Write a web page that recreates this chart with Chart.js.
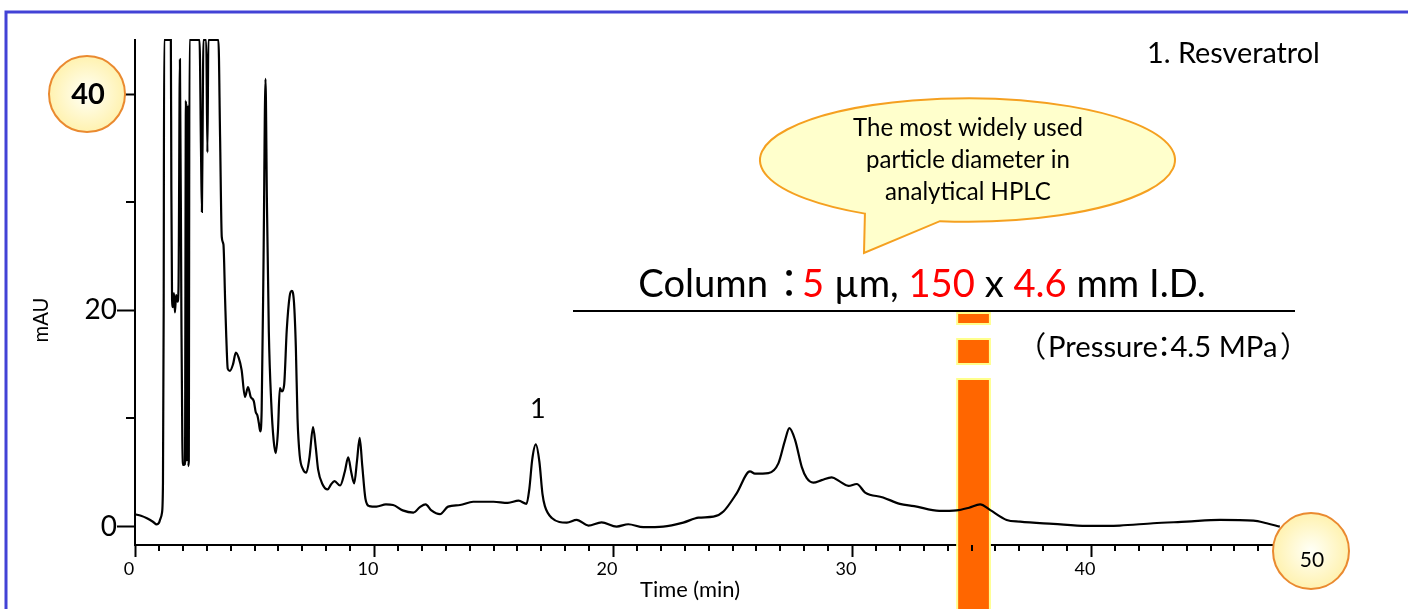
<!DOCTYPE html>
<html lang="en">
<head>
    <meta charset="UTF-8">
    <title>Resveratrol chromatogram</title>
    <script src="https://cdn.jsdelivr.net/npm/chart.js"></script>
    <style>
        html, body { margin: 0; padding: 0; background: #fff; }
        #wrap { width: 1408px; height: 609px; position: relative; }
    </style>
</head>
<body>
    <div id="wrap"><canvas id="chroma"></canvas></div>

    <script>
        // chromatogram: time (min) and absorbance (mAU)
        const timeMin = [
            0.00, 0.25, 0.50, 0.75, 0.91, 1.00, 1.06, 1.13, 1.17, 1.20, 1.22, 1.50, 1.52, 1.55, 1.59,
            1.63, 1.67, 1.72, 1.78, 1.82, 1.88, 1.94, 1.98, 2.02, 2.09, 2.13, 2.16, 2.19, 2.22, 2.25,
            2.28, 2.70, 2.76, 2.80, 2.84, 2.86, 2.98, 3.03, 3.07, 3.49, 3.56, 3.63, 3.70, 3.77, 3.82,
            3.88, 3.97, 4.10, 4.22, 4.34, 4.46, 4.60, 4.73, 4.84, 4.97, 5.05, 5.12, 5.18, 5.24, 5.30,
            5.38, 5.46, 5.52, 5.60, 5.70, 5.80, 5.89, 5.98, 6.06, 6.15, 6.24, 6.35, 6.47, 6.56, 6.65,
            6.73, 6.80, 6.89, 7.03, 7.17, 7.30, 7.45, 7.56, 7.66, 7.85, 8.06, 8.20, 8.35, 8.58, 8.78,
            8.92, 9.05, 9.17, 9.29, 9.40, 9.51, 9.64, 9.80, 10.10, 10.50, 10.80, 11.20, 11.65, 11.92, 12.16,
            12.40, 12.76, 13.10, 13.60, 14.15, 15.00, 15.60, 16.05, 16.38, 16.50, 16.62, 16.77, 16.92, 17.05, 17.15,
            17.44, 18.07, 18.48, 18.97, 19.52, 20.15, 20.64, 21.27, 22.10, 22.94, 23.58, 24.20, 24.62, 25.18, 25.73,
            25.94, 26.50, 26.92, 27.20, 27.38, 27.62, 27.90, 28.10, 28.38, 28.73, 29.15, 29.50, 29.85, 30.20, 30.55,
            31.30, 32.00, 32.60, 33.65, 34.38, 34.90, 35.36, 35.77, 36.47, 37.03, 38.42, 39.82, 41.20, 42.60, 44.00,
            45.40, 46.80, 47.35, 47.90
        ];
        const absMAU = [
            1.14, 1.00, 0.77, 0.45, 0.20, 0.35, 0.70, 1.30, 4.0, 20.0, 45, 45, 32, 21.0, 20.3,
            21.6, 19.8, 21.4, 20.8, 22.0, 43.2, 20.0, 8.0, 5.7, 5.8, 39.4, 6.0, 39.0, 5.6, 6.0,
            45, 45, 35, 29.1, 40, 45, 45, 34.6, 45, 45, 36, 26.8, 26.1, 21.0, 17.5,
            14.6, 14.4, 15.0, 16.1, 15.6, 14.5, 12.0, 12.9, 12.0, 11.6, 10.6, 10.3, 9.6, 8.8, 10.8,
            25.0, 41.4, 30.0, 18.0, 11.5, 8.0, 6.8, 8.8, 12.8, 12.5, 13.1, 18.2, 21.3, 21.8, 20.8,
            16.6, 10.0, 6.6, 5.3, 5.0, 6.4, 9.2, 7.4, 5.3, 3.9, 3.45, 3.9, 4.2, 3.8, 5.1,
            6.4, 5.0, 4.0, 6.1, 8.2, 5.6, 2.6, 1.9, 1.85, 2.05, 2.0, 1.5, 1.3, 1.8, 2.05,
            1.5, 1.15, 1.85, 2.0, 2.3, 2.3, 2.2, 2.4, 2.1, 3.5, 6.2, 7.6, 6.0, 3.0, 1.9,
            0.8, 0.37, 0.62, 0.1, 0.4, 0.0, 0.22, -0.05, 0.0, 0.37, 0.83, 0.92, 1.4, 3.1, 5.1,
            4.9, 4.95, 5.85, 8.0, 9.1, 8.0, 5.5, 4.5, 4.07, 4.3, 4.56, 4.16, 3.76, 3.94, 3.15,
            2.7, 2.1, 1.9, 1.45, 1.5, 1.75, 2.05, 1.55, 0.62, 0.46, 0.25, 0.06, 0.1, 0.31, 0.46,
            0.62, 0.55, 0.31, 0.0
        ];

        const xMajorTicks = [0, 10, 20, 30, 40, 50];
        const yMajorTicks = [0, 20, 40];
        const yMinorTicks = [10, 30];
        const peakNames = ['1'];
        const peakTimes = [16.77];
        const bandFrom = 34.4;   // orange marker
        const bandTo = 35.77;

        const FONT = 'Lato, "Noto Sans CJK JP", sans-serif';
        const RED = '#ff0000';

        // font size so that the text takes the wanted width
        function fitFont(c, text, width, weight) {
            c.font = weight + ' 100px ' + FONT;
            return 100 * width / c.measureText(text).width;
        }

        // draw text with its ink starting at left, return where the ink ends
        function inkText(c, s, left, y) {
            const m = c.measureText(s);
            c.fillText(s, left + m.actualBoundingBoxLeft, y);
            return left + m.actualBoundingBoxLeft + m.actualBoundingBoxRight;
        }

        function badge(c, x, y, r) {
            const g = c.createRadialGradient(x, y, 2, x, y, r);
            g.addColorStop(0, '#fffff4');
            g.addColorStop(1, '#fff2b0');
            c.beginPath();
            c.arc(x, y, r, 0, Math.PI * 2);
            c.fillStyle = g;
            c.fill();
            c.strokeStyle = '#ea8a30';
            c.lineWidth = 2;
            c.stroke();
        }

        const decor = {
            id: 'decor',
            beforeDraw(chart) {
                const c = chart.ctx;
                c.save();
                c.strokeStyle = '#4242d6';
                c.lineWidth = 3;
                c.beginPath();
                c.moveTo(6, chart.height + 2);
                c.lineTo(6, 12);
                c.lineTo(chart.width + 2, 12);
                c.stroke();
                c.restore();
            },
            beforeDatasetsDraw(chart) {
                const c = chart.ctx, x = chart.scales.x;
                const l = x.getPixelForValue(bandFrom), r = x.getPixelForValue(bandTo);
                c.save();
                [[313, 324], [339, 364], [379, chart.height + 4]].forEach(([t, b]) => {
                    c.fillStyle = '#ff6600';
                    c.fillRect(l, t, r - l, b - t);
                    c.strokeStyle = '#ffff8c';
                    c.lineWidth = 2;
                    c.strokeRect(l, t, r - l, b - t);
                });
                c.restore();
            },
            afterDraw(chart) {
                const c = chart.ctx;
                const { x, y } = chart.scales;
                const area = chart.chartArea;
                c.save();

                // minor ticks
                c.strokeStyle = '#000';
                c.lineWidth = 2;
                c.beginPath();
                for (let t = 1; t < 50; t++) {
                    if (t % 10 === 0) continue;
                    const px = Math.round(x.getPixelForValue(t));
                    c.moveTo(px, area.bottom);
                    c.lineTo(px, area.bottom + 6);
                }
                yMinorTicks.forEach(v => {
                    const py = Math.round(y.getPixelForValue(v));
                    c.moveTo(area.left - 9, py);
                    c.lineTo(area.left, py);
                });
                c.stroke();

                // circled tick labels
                const y40 = y.getPixelForValue(40);
                badge(c, 87, y40, 38);
                c.fillStyle = '#000';
                c.textAlign = 'center';
                c.textBaseline = 'middle';
                c.font = 'bold 29px ' + FONT;
                c.fillText('40', 88, y40 + 1);

                const x50 = x.getPixelForValue(50) - 19;
                badge(c, x50, 551, 38);
                c.fillStyle = '#000';
                c.font = '21px ' + FONT;
                c.fillText('50', x50 + 1, 560);

                // peak label
                c.textBaseline = 'alphabetic';
                peakNames.forEach((name, i) => {
                    c.font = '27px ' + FONT;
                    c.fillText(name, x.getPixelForValue(peakTimes[i]) + 2, 418);
                });

                // axis titles
                c.font = fitFont(c, 'Time (min)', 100, '') + 'px ' + FONT;
                c.fillText('Time (min)', 690, 597);
                c.save();
                c.translate(48, 320);
                c.rotate(-Math.PI / 2);
                c.font = fitFont(c, 'mAU', 45, '') + 'px ' + FONT;
                c.fillText('mAU', 0, 0);
                c.restore();

                // legend text
                c.textAlign = 'left';
                c.font = fitFont(c, '1. Resveratrol', 173, '') + 'px ' + FONT;
                c.fillText('1. Resveratrol', 1147, 63);

                // speech bubble
                const cx = 967.5, cy = 160, rx = 207.5, ry = 61.7;
                const a1 = Math.atan2((213.6 - cy) / ry, (865 - cx) / rx);
                const a2 = Math.atan2((221 - cy) / ry, (940 - cx) / rx);
                c.beginPath();
                c.ellipse(cx, cy, rx, ry, 0, a1, a2, false);
                c.lineTo(864, 253);
                c.closePath();
                c.fillStyle = '#ffffcc';
                c.fill();
                c.strokeStyle = '#f5a020';
                c.lineWidth = 2;
                c.stroke();

                c.fillStyle = '#000';
                c.textAlign = 'center';
                const bs = fitFont(c, 'The most widely used', 230, '');
                c.font = bs + 'px ' + FONT;
                c.fillText('The most widely used', 968, 136);
                c.fillText('particle diameter in', 968, 168);
                c.fillText('analytical HPLC', 968, 200);

                // column line: "Column：5 µm, 150 x 4.6 mm I.D."
                const parts = [['5', RED], [' µm, ', '#000'], ['150', RED],
                               [' x ', '#000'], ['4.6', RED], [' mm I.D.', '#000']];
                const rest = parts.map(p => p[0]).join('');
                c.font = fitFont(c, rest, 404, '') + 'px ' + FONT;
                c.textAlign = 'right';
                c.fillStyle = '#000';
                c.fillText('Column', 768, 297);
                c.textAlign = 'left';
                inkText(c, '：', 786, 297);
                let px = 802;
                parts.forEach(([s, col]) => {
                    c.fillStyle = col;
                    c.fillText(s, px, 297);
                    px += c.measureText(s).width;
                });
                c.strokeStyle = '#000';
                c.lineWidth = 2;
                c.beginPath();
                c.moveTo(573, 311);
                c.lineTo(1295, 311);
                c.stroke();

                // pressure note: "（Pressure：4.5 MPa）"
                c.fillStyle = '#000';
                c.font = fitFont(c, 'Pressure4.5 MPa', 217, '') + 'px ' + FONT;
                let e = inkText(c, '（', 1037, 357);
                e = inkText(c, 'Pressure', e + 5, 357);
                e = inkText(c, '：', e + 4, 357);
                e = inkText(c, '4.5 MPa', e + 4, 357);
                inkText(c, '）', e + 5, 357);

                c.restore();
            }
        };

        const ctx = document.getElementById('chroma').getContext('2d');
        const chroma = new Chart(ctx, {
            type: 'line',
            data: {
                datasets: [{
                    label: 'Absorbance (mAU)',
                    data: timeMin.map((t, i) => ({ x: t, y: absMAU[i] })),
                    borderColor: '#000',
                    borderWidth: 2.2,
                    pointRadius: 0,
                    fill: false,
                    cubicInterpolationMode: 'monotone',
                    clip: 6
                }]
            },
            options: {
                responsive: true,
                maintainAspectRatio: false,
                animation: false,
                layout: { padding: { left: 0, top: 40, right: 78, bottom: 0 } },
                plugins: { legend: { display: false }, tooltip: { enabled: false } },
                scales: {
                    x: {
                        type: 'linear',
                        min: 0,
                        max: 50,
                        afterFit: s => { s.height = 64; },
                        afterBuildTicks: s => { s.ticks = xMajorTicks.map(v => ({ value: v })); },
                        border: { color: '#000', width: 2 },
                        grid: { drawOnChartArea: false, tickLength: 12, tickColor: '#000', tickWidth: 2 },
                        ticks: {
                            color: '#000',
                            font: { family: FONT, size: 18 },
                            padding: 1,
                            labelOffset: -6,
                            maxRotation: 0,
                            autoSkip: false,
                            callback: v => (v === 50 ? '' : v)
                        }
                    },
                    y: {
                        min: -1.7,
                        max: 45,
                        afterFit: s => { s.width = 135; },
                        afterBuildTicks: s => { s.ticks = yMajorTicks.map(v => ({ value: v })); },
                        border: { color: '#000', width: 2 },
                        grid: { drawOnChartArea: false, tickLength: 18, tickColor: '#000', tickWidth: 2 },
                        ticks: {
                            color: '#000',
                            font: { family: FONT, size: 28 },
                            padding: 0,
                            callback: v => (v === 40 ? '' : v)
                        }
                    }
                }
            },
            plugins: [decor]
        });
    </script>
</body>
</html>
